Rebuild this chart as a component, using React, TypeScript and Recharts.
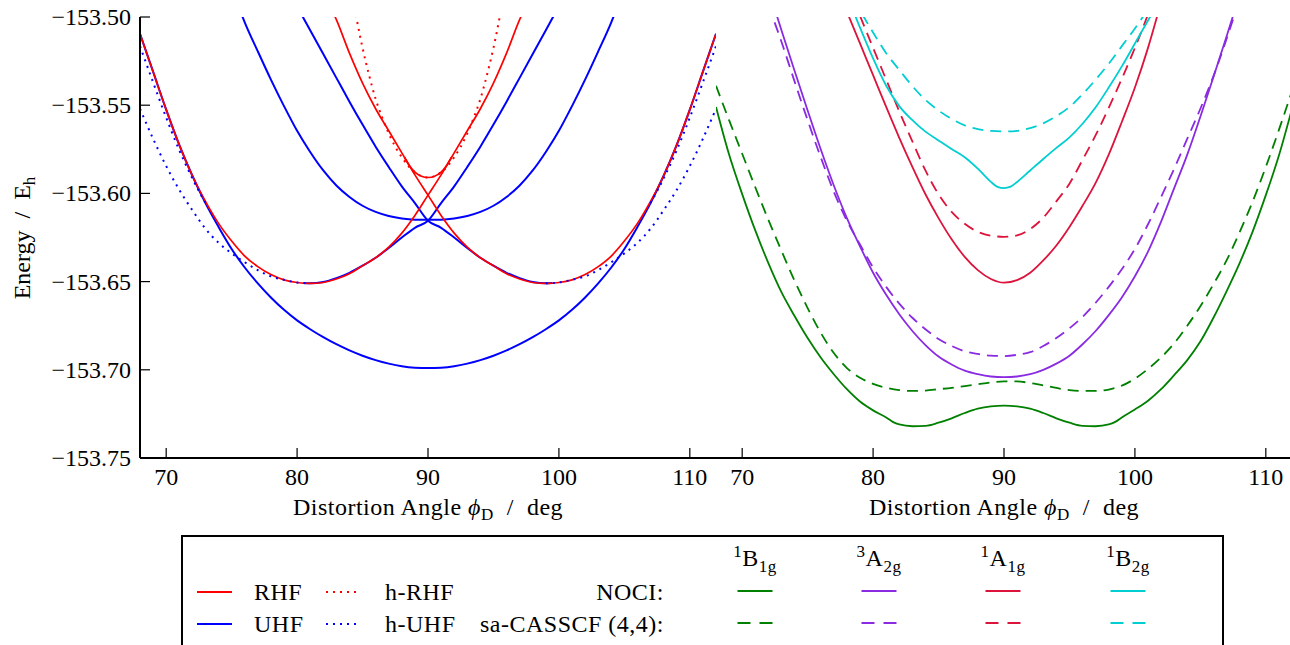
import { LineChart, Line, XAxis, YAxis } from 'recharts'

type Pt = [number, number]

const xTicks = [70, 80, 90, 100, 110]
const yTicks = [-153.75, -153.7, -153.65, -153.6, -153.55, -153.5]
const xDomain = [68, 112]
const yDomain = [-153.75, -153.5]

// ---- left panel: RHF / UHF and holomorphic versions ----
const rhfA: Pt[] = [[68,-153.5095],[69,-153.531],[70,-153.5525],[71,-153.5725],[72,-153.590],[73,-153.6045],[74,-153.617],[75,-153.627],[76,-153.6355],[77,-153.6415],[78,-153.646],[79,-153.649],[80,-153.6505],[81,-153.651],[82,-153.6505],[83,-153.6485],[84,-153.6455],[85,-153.641],[86,-153.6365],[87,-153.6305],[88,-153.6225],[89,-153.6125],[90,-153.601],[91,-153.5895],[92,-153.577],[93,-153.5645],[94,-153.552],[95,-153.5375],[96,-153.5205],[97,-153.5015],[97.5,-153.4935]]
const rhfB: Pt[] = [[82.5,-153.4935],[83,-153.5015],[84,-153.5205],[85,-153.5375],[86,-153.552],[87,-153.5645],[88,-153.577],[89,-153.5895],[90,-153.601],[91,-153.6125],[92,-153.6225],[93,-153.6305],[94,-153.6365],[95,-153.641],[96,-153.6455],[97,-153.6485],[98,-153.6505],[99,-153.651],[100,-153.6505],[101,-153.649],[102,-153.646],[103,-153.6415],[104,-153.6355],[105,-153.627],[106,-153.617],[107,-153.6045],[108,-153.590],[109,-153.5725],[110,-153.5525],[111,-153.531],[112,-153.5095]]
const rhfMid: Pt[] = [[88.2,-153.5795],[88.6,-153.5845],[89,-153.588],[89.5,-153.5903],[90,-153.591],[90.5,-153.5903],[91,-153.588],[91.4,-153.5845],[91.8,-153.5795]]
const hRhf: Pt[] = [[84.4,-153.495],[84.6,-153.503],[85,-153.5175],[85.5,-153.533],[86,-153.5465],[86.5,-153.557],[87,-153.566],[87.5,-153.5735],[88,-153.5795],[88.5,-153.5845],[89,-153.588],[89.5,-153.5903],[90,-153.591],[90.5,-153.5903],[91,-153.588],[91.5,-153.5845],[92,-153.5795],[92.5,-153.5735],[93,-153.566],[93.5,-153.557],[94,-153.5465],[94.5,-153.533],[95,-153.5175],[95.4,-153.503],[95.6,-153.495]]

const uhfLow: Pt[] = [[68,-153.5095],[69,-153.531],[70,-153.5525],[71,-153.5725],[72,-153.590],[73,-153.6055],[74,-153.619],[75,-153.6315],[76,-153.642],[77,-153.651],[78,-153.659],[79,-153.666],[80,-153.672],[81,-153.677],[82,-153.6815],[83,-153.6855],[84,-153.689],[85,-153.692],[86,-153.6945],[87,-153.6965],[88,-153.698],[89,-153.6988],[90,-153.699],[91,-153.6988],[92,-153.698],[93,-153.6965],[94,-153.6945],[95,-153.692],[96,-153.689],[97,-153.6855],[98,-153.6815],[99,-153.677],[100,-153.672],[101,-153.666],[102,-153.659],[103,-153.651],[104,-153.642],[105,-153.6315],[106,-153.619],[107,-153.6055],[108,-153.590],[109,-153.5725],[110,-153.5525],[111,-153.531],[112,-153.5095]]
const uhfMid: Pt[] = [[75.5,-153.4935],[76,-153.503],[77,-153.5195],[78,-153.5355],[79,-153.5505],[80,-153.5645],[81,-153.5765],[82,-153.587],[83,-153.5955],[84,-153.602],[85,-153.607],[86,-153.6105],[87,-153.6128],[88,-153.6142],[89,-153.6149],[90,-153.615],[91,-153.6149],[92,-153.6142],[93,-153.6128],[94,-153.6105],[95,-153.607],[96,-153.602],[97,-153.5955],[98,-153.587],[99,-153.5765],[100,-153.5645],[101,-153.5505],[102,-153.5355],[103,-153.5195],[104,-153.503],[104.5,-153.4935]]
const uhfLeft: Pt[] = [[80.5,-153.6508],[81,-153.651],[82,-153.6502],[83,-153.648],[84,-153.645],[85,-153.641],[86,-153.6365],[87,-153.631],[88,-153.625],[89,-153.6195],[90,-153.6155],[91,-153.6055],[92,-153.596],[93,-153.585],[94,-153.5735],[95,-153.561],[96,-153.548],[97,-153.5345],[98,-153.521],[99,-153.5075],[100,-153.494]]
const uhfRight: Pt[] = [[80,-153.494],[81,-153.5075],[82,-153.521],[83,-153.5345],[84,-153.548],[85,-153.561],[86,-153.5735],[87,-153.585],[88,-153.596],[89,-153.6055],[90,-153.6155],[91,-153.6195],[92,-153.625],[93,-153.631],[94,-153.6365],[95,-153.641],[96,-153.645],[97,-153.648],[98,-153.6502],[99,-153.651],[99.5,-153.6508]]

const hUhfLowL: Pt[] = [[68,-153.5165],[69,-153.537],[70,-153.557],[71,-153.5755],[72,-153.5915],[73,-153.6055]]
const hUhfLowR: Pt[] = [[107,-153.6055],[108,-153.5915],[109,-153.5755],[110,-153.557],[111,-153.537],[112,-153.5165]]
const hUhfSideL: Pt[] = [[68,-153.552],[69,-153.569],[70,-153.5845],[71,-153.598],[72,-153.6095],[73,-153.620],[74,-153.628],[75,-153.634],[76,-153.639],[77,-153.6435],[78,-153.647],[79,-153.649],[80,-153.6505],[81,-153.651]]
const hUhfSideR: Pt[] = [[99,-153.651],[100,-153.6505],[101,-153.649],[102,-153.647],[103,-153.6435],[104,-153.639],[105,-153.634],[106,-153.628],[107,-153.620],[108,-153.6095],[109,-153.598],[110,-153.5845],[111,-153.569],[112,-153.552]]

// ---- right panel: NOCI (solid) vs sa-CASSCF(4,4) (dashed) ----
const nociB1g: Pt[] = [[68,-153.551],[69,-153.578],[70,-153.6004],[71,-153.621],[72,-153.6395],[73,-153.656],[74,-153.6695],[75,-153.682],[76,-153.693],[77,-153.7025],[78,-153.711],[79,-153.718],[80,-153.723],[81,-153.727],[81.5,-153.7295],[82,-153.731],[83,-153.732],[84,-153.7318],[85,-153.730],[86,-153.7275],[87,-153.7245],[88,-153.722],[89,-153.7207],[90,-153.7203],[91,-153.7207],[92,-153.722],[93,-153.7245],[94,-153.7275],[95,-153.730],[96,-153.7318],[97,-153.732],[98,-153.731],[98.5,-153.7295],[99,-153.727],[100,-153.7225],[101,-153.7175],[102,-153.711],[103,-153.703],[104,-153.6945],[105,-153.684],[106,-153.6705],[107,-153.6555],[108,-153.6395],[109,-153.6215],[110,-153.601],[111,-153.5785],[112,-153.552]]
const casB1g: Pt[] = [[68,-153.539],[69,-153.5585],[70,-153.5775],[71,-153.5965],[72,-153.615],[73,-153.6325],[74,-153.6495],[75,-153.665],[76,-153.679],[77,-153.6905],[78,-153.699],[79,-153.7045],[80,-153.708],[81,-153.7102],[82,-153.7115],[83,-153.712],[84,-153.7118],[85,-153.711],[86,-153.7102],[87,-153.7092],[88,-153.7082],[89,-153.7072],[90,-153.7066],[91,-153.7066],[92,-153.7075],[93,-153.7088],[94,-153.7103],[95,-153.7115],[96,-153.712],[97,-153.712],[98,-153.7112],[99,-153.709],[100,-153.705],[101,-153.6995],[102,-153.693],[103,-153.685],[104,-153.675],[105,-153.664],[106,-153.6515],[107,-153.638],[108,-153.622],[109,-153.6045],[110,-153.585],[111,-153.564],[112,-153.542]]
const nociA2g: Pt[] = [[72,-153.484],[73,-153.5075],[74,-153.5305],[75,-153.553],[76,-153.575],[77,-153.5955],[78,-153.614],[79,-153.63],[80,-153.645],[81,-153.6575],[82,-153.6685],[83,-153.678],[84,-153.686],[85,-153.6925],[86,-153.697],[87,-153.7005],[88,-153.7025],[89,-153.7038],[90,-153.7042],[91,-153.7038],[92,-153.7025],[93,-153.7],[94,-153.6965],[95,-153.692],[96,-153.6855],[97,-153.678],[98,-153.669],[99,-153.659],[100,-153.647],[101,-153.633],[102,-153.616],[103,-153.597],[104,-153.578],[105,-153.5565],[106,-153.534],[107,-153.511],[108,-153.4875]]
const casA2g: Pt[] = [[72,-153.4935],[73,-153.514],[74,-153.5365],[75,-153.5585],[76,-153.5795],[77,-153.599],[78,-153.6155],[79,-153.629],[80,-153.642],[81,-153.653],[82,-153.6625],[83,-153.6705],[84,-153.677],[85,-153.6825],[86,-153.6865],[87,-153.6895],[88,-153.691],[89,-153.692],[90,-153.6922],[91,-153.6915],[92,-153.690],[93,-153.6865],[94,-153.682],[95,-153.6765],[96,-153.67],[97,-153.662],[98,-153.653],[99,-153.643],[100,-153.6315],[101,-153.6175],[102,-153.602],[103,-153.586],[104,-153.569],[105,-153.552],[106,-153.5335],[107,-153.5125],[108,-153.4895]]
const nociA1g: Pt[] = [[77.5,-153.488],[78,-153.497],[79,-153.515],[80,-153.533],[81,-153.551],[82,-153.5685],[83,-153.585],[84,-153.6005],[85,-153.614],[86,-153.626],[87,-153.636],[88,-153.6435],[89,-153.6485],[90,-153.6506],[91,-153.6492],[92,-153.645],[93,-153.638],[94,-153.6295],[95,-153.619],[96,-153.607],[97,-153.594],[98,-153.578],[99,-153.5595],[100,-153.54],[101,-153.5175],[102,-153.4915]]
const casA1g: Pt[] = [[78.5,-153.490],[79,-153.4993],[80,-153.5175],[81,-153.5355],[82,-153.5535],[83,-153.5705],[84,-153.587],[85,-153.6005],[86,-153.6105],[87,-153.6172],[88,-153.6218],[89,-153.624],[90,-153.6246],[91,-153.6238],[92,-153.6202],[93,-153.6138],[94,-153.6045],[95,-153.5945],[96,-153.581],[97,-153.567],[98,-153.5515],[99,-153.535],[100,-153.5175],[101,-153.4985],[101.5,-153.4885]]
const nociB2g: Pt[] = [[78,-153.4875],[79,-153.506],[80,-153.5235],[81,-153.539],[82,-153.5505],[83,-153.5585],[84,-153.565],[85,-153.57],[86,-153.5748],[87,-153.5795],[88,-153.586],[89,-153.5935],[89.5,-153.5963],[90,-153.597],[90.5,-153.5962],[91,-153.5935],[92,-153.587],[93,-153.5805],[94,-153.5742],[95,-153.5682],[96,-153.5605],[97,-153.5512],[98,-153.540],[99,-153.528],[100,-153.515],[101,-153.502],[101.5,-153.4955]]
const casB2g: Pt[] = [[78.5,-153.4895],[79,-153.4962],[80,-153.5088],[81,-153.5205],[82,-153.530],[83,-153.5392],[84,-153.547],[85,-153.553],[86,-153.5578],[87,-153.5614],[88,-153.5635],[89,-153.5646],[90,-153.5649],[91,-153.5645],[92,-153.563],[93,-153.5603],[94,-153.5562],[95,-153.551],[96,-153.5438],[97,-153.5355],[98,-153.5265],[99,-153.5165],[100,-153.5065],[101,-153.4955]]

const FONT = '"Liberation Serif", "Times New Roman", "DejaVu Serif", serif'
const FS = 24
const textStyle = { fontFamily: FONT, whiteSpace: 'pre' as const }
const wideText = { ...textStyle, letterSpacing: 0.5 }
const RED = '#ff0000'
const BLUE = '#0000ff'
const GREEN = '#008000'
const PURPLE = '#8a2be2'
const CRIMSON = '#dc143c'
const CYAN = '#00ced1'
const DOT = '2 5'
const DASH = '11 7'

const pts = (a: Pt[]) => a.map(([x, e]) => ({ x, e }))
const fmtY = (v: number) => v.toFixed(2).replace('-', '\u2212')
const spine = { stroke: '#000', strokeWidth: 2 }

const BottomTick = (p: any) => (
  <g>
    <line x1={p.x} y1={p.y} x2={p.x} y2={p.y - 10} stroke="#000" strokeWidth={1.2} />
    <text x={p.x} y={p.y + 27} textAnchor="middle" fontSize={FS} style={textStyle} fill="#000">
      {p.payload.value}
    </text>
  </g>
)
const TopTick = (p: any) => <line x1={p.x} y1={p.y} x2={p.x} y2={p.y + 10} stroke="#000" strokeWidth={1.2} />
const LeftTickLabel = (p: any) => (
  <g>
    <line x1={p.x} y1={p.y} x2={p.x + 10} y2={p.y} stroke="#000" strokeWidth={1.2} />
    <text x={p.x - 9} y={p.y + 8} textAnchor="end" fontSize={FS} style={textStyle} fill="#000">
      {fmtY(p.payload.value)}
    </text>
  </g>
)
const LeftTick = (p: any) => <line x1={p.x} y1={p.y} x2={p.x + 10} y2={p.y} stroke="#000" strokeWidth={1.2} />
const RightTick = (p: any) => <line x1={p.x} y1={p.y} x2={p.x - 10} y2={p.y} stroke="#000" strokeWidth={1.2} />

function Frame({ labelled }: { labelled: boolean }) {
  return [
    <XAxis key="xb" dataKey="x" type="number" domain={xDomain} ticks={xTicks} interval={0} allowDataOverflow height={82} tickSize={0} tickMargin={0} tick={BottomTick} axisLine={spine} />,
    <XAxis key="xt" xAxisId="top" orientation="top" dataKey="x" type="number" domain={xDomain} ticks={xTicks} interval={0} allowDataOverflow height={0} tickSize={0} tickMargin={0} tick={TopTick} axisLine={spine} />,
    <YAxis key="yl" type="number" domain={yDomain} ticks={yTicks} interval={0} allowDataOverflow width={labelled ? 140 : 0} tickSize={0} tickMargin={0} tick={labelled ? LeftTickLabel : LeftTick} axisLine={spine} />,
    <YAxis key="yr" yAxisId="r" orientation="right" type="number" domain={yDomain} ticks={yTicks} interval={0} allowDataOverflow width={0} tickSize={0} tickMargin={0} tick={RightTick} axisLine={spine} />,
  ]
}

const series = (data: Pt[], color: string, dash?: string, w = 2) => (
  <Line
    data={pts(data)}
    dataKey="e"
    type="monotone"
    stroke={color}
    strokeWidth={w}
    strokeDasharray={dash}
    dot={false}
    activeDot={false}
    isAnimationActive={false}
  />
)

function XTitle({ cx }: { cx: number }) {
  return (
    <text x={cx} y={515} textAnchor="middle" fontSize={FS} style={wideText}>
      {'Distortion Angle '}<tspan fontStyle="italic">{'\u03D5'}</tspan>
      <tspan dy={5} fontSize={17}>D</tspan>
      <tspan dy={-5}>{'  /  deg'}</tspan>
    </text>
  )
}

function StateHead({ cx, sup, letter, sub }: { cx: number; sup: string; letter: string; sub: string }) {
  return (
    <text x={cx} y={566} textAnchor="middle" fontSize={FS} style={textStyle}>
      <tspan dy={-9} fontSize={17}>{sup}</tspan>
      <tspan dy={9}>{letter}</tspan>
      <tspan dy={6} fontSize={17}>{sub}</tspan>
    </text>
  )
}

function Legend() {
  const states = [
    { cx: 755, sup: '1', letter: 'B', sub: '1g', color: GREEN },
    { cx: 879, sup: '3', letter: 'A', sub: '2g', color: PURPLE },
    { cx: 1003, sup: '1', letter: 'A', sub: '1g', color: CRIMSON },
    { cx: 1128, sup: '1', letter: 'B', sub: '2g', color: CYAN },
  ]
  return (
    <g fontSize={FS} fill="#000" style={wideText}>
      <rect x={182} y={536} width={1041} height={140} fill="#fff" stroke="#000" strokeWidth={2} />
      <line x1={197} y1={592} x2={232} y2={592} stroke={RED} strokeWidth={2} />
      <text x={254} y={600}>RHF</text>
      <line x1={326} y1={592} x2={356} y2={592} stroke={RED} strokeWidth={2} strokeDasharray={DOT} />
      <text x={385} y={600}>h-RHF</text>
      <line x1={197} y1={624} x2={232} y2={624} stroke={BLUE} strokeWidth={2} />
      <text x={254} y={632}>UHF</text>
      <line x1={326} y1={624} x2={356} y2={624} stroke={BLUE} strokeWidth={2} strokeDasharray={DOT} />
      <text x={385} y={632}>h-UHF</text>
      <text x={664} y={600} textAnchor="end">NOCI:</text>
      <text x={664} y={632} textAnchor="end">sa-CASSCF (4,4):</text>
      {states.map((s) => (
        <g key={s.cx + s.sub}>
          <StateHead cx={s.cx} sup={s.sup} letter={s.letter} sub={s.sub} />
          <line x1={s.cx - 17.5} y1={591} x2={s.cx + 17.5} y2={591} stroke={s.color} strokeWidth={2} />
          <line x1={s.cx - 17.5} y1={623} x2={s.cx + 17.5} y2={623} stroke={s.color} strokeWidth={2} strokeDasharray="13 9" />
        </g>
      ))}
    </g>
  )
}

export default function App() {
  return (
    <div style={{ position: 'fixed', left: 0, top: 0, width: 1290, height: 645, overflow: 'hidden', background: '#fff', fontFamily: FONT }}>
      <div style={{ position: 'absolute', left: 0, top: 0 }}>
        <LineChart width={718} height={540} margin={{ top: 17, right: 2, bottom: 0, left: 0 }}>
          {Frame({ labelled: true })}
          {series(uhfLow, BLUE)}
          {series(uhfMid, BLUE)}
          {series(uhfLeft, BLUE)}
          {series(uhfRight, BLUE)}
          {series(rhfA, RED, undefined, 1.7)}
          {series(rhfB, RED, undefined, 1.7)}
          {series(rhfMid, RED, undefined, 1.7)}
          {series(hRhf, RED, DOT)}
          {series(hUhfLowL, BLUE, DOT)}
          {series(hUhfLowR, BLUE, DOT)}
          {series(hUhfSideL, BLUE, DOT)}
          {series(hUhfSideR, BLUE, DOT)}
        </LineChart>
      </div>
      <div style={{ position: 'absolute', left: 714, top: 0 }}>
        <LineChart width={580} height={540} margin={{ top: 17, right: 2, bottom: 0, left: 2 }}>
          {Frame({ labelled: false })}
          {series(nociB1g, GREEN, undefined, 1.8)}
          {series(casB1g, GREEN, DASH, 1.8)}
          {series(nociA2g, PURPLE, undefined, 1.8)}
          {series(casA2g, PURPLE, DASH, 1.8)}
          {series(nociA1g, CRIMSON, undefined, 1.8)}
          {series(casA1g, CRIMSON, DASH, 1.8)}
          {series(nociB2g, CYAN, undefined, 1.8)}
          {series(casB2g, CYAN, DASH, 1.8)}
        </LineChart>
      </div>
      <svg width={1290} height={645} style={{ position: 'absolute', left: 0, top: 0, pointerEvents: 'none' }}>
        <text transform="rotate(-90 30 238)" x={30} y={238} textAnchor="middle" fontSize={FS} style={textStyle}>
          {'Energy  /  E'}<tspan dy={5} fontSize={17}>h</tspan>
        </text>
        <XTitle cx={428} />
        <XTitle cx={1004} />
        <Legend />
      </svg>
    </div>
  )
}
